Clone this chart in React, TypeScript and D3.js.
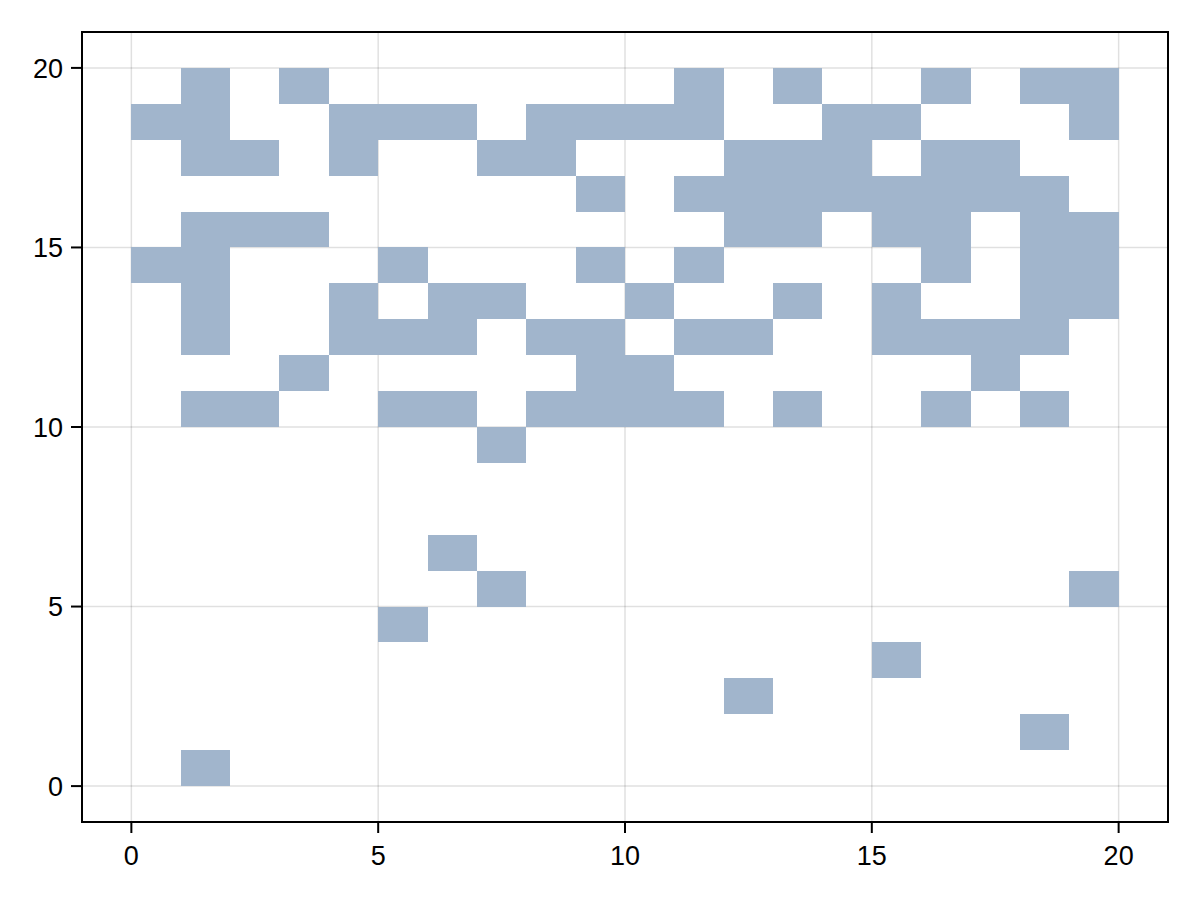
import React, { useEffect, useRef } from 'react';
import * as d3 from 'd3';

// filled cells, one list of x-indices per y row (cell spans [x, x+1] x [y, y+1])
const rowY = [19, 18, 17, 16, 15, 14, 13, 12, 11, 10, 9, 6, 5, 4, 3, 2, 1, 0];
const rowCells: number[][] = [
  [1, 3, 11, 13, 16, 18, 19],
  [0, 1, 4, 5, 6, 8, 9, 10, 11, 14, 15, 19],
  [1, 2, 4, 7, 8, 12, 13, 14, 16, 17],
  [9, 11, 12, 13, 14, 15, 16, 17, 18],
  [1, 2, 3, 12, 13, 15, 16, 18, 19],
  [0, 1, 5, 9, 11, 16, 18, 19],
  [1, 4, 6, 7, 10, 13, 15, 18, 19],
  [1, 4, 5, 6, 8, 9, 11, 12, 15, 16, 17, 18],
  [3, 9, 10, 17],
  [1, 2, 5, 6, 8, 9, 10, 11, 13, 16, 18],
  [7],
  [6],
  [7, 19],
  [5],
  [15],
  [12],
  [18],
  [1],
];

const xTicks = [0, 5, 10, 15, 20];
const yTicks = [0, 5, 10, 15, 20];

const W = 1200;
const H = 900;
const margin = { top: 32, right: 32, bottom: 78, left: 82 };

export default function App() {
  const ref = useRef<SVGSVGElement>(null);

  useEffect(() => {
    if (!ref.current) return;
    const svg = d3.select(ref.current);
    svg.selectAll('*').remove();

    const x = d3.scaleLinear().domain([-1, 21]).range([margin.left, W - margin.right]);
    const y = d3.scaleLinear().domain([-1, 21]).range([H - margin.bottom, margin.top]);

    svg.append('rect').attr('width', W).attr('height', H).attr('fill', '#fff');

    // grid
    const grid = svg.append('g').attr('stroke', '#000').attr('stroke-opacity', 0.12).attr('stroke-width', 1.5);
    xTicks.forEach(t => {
      grid.append('line').attr('x1', x(t)).attr('x2', x(t)).attr('y1', y(-1)).attr('y2', y(21));
    });
    yTicks.forEach(t => {
      grid.append('line').attr('x1', x(-1)).attr('x2', x(21)).attr('y1', y(t)).attr('y2', y(t));
    });

    // cells
    const cells = rowY.flatMap((yy, i) => rowCells[i].map(xx => ({ x: xx, y: yy })));
    svg.append('g')
      .selectAll('rect')
      .data(cells)
      .enter()
      .append('rect')
      .attr('x', d => x(d.x))
      .attr('y', d => y(d.y + 1))
      .attr('width', d => x(d.x + 1) - x(d.x))
      .attr('height', d => y(d.y) - y(d.y + 1))
      .attr('fill', '#a1b5cc')
      .attr('shape-rendering', 'crispEdges');

    // frame
    svg.append('rect')
      .attr('x', x(-1))
      .attr('y', y(21))
      .attr('width', x(21) - x(-1))
      .attr('height', y(-1) - y(21))
      .attr('fill', 'none')
      .attr('stroke', '#000')
      .attr('stroke-width', 2);

    const font = "'Liberation Sans', Arial, sans-serif";

    // x axis
    const xa = svg.append('g');
    xTicks.forEach(t => {
      xa.append('line').attr('x1', x(t)).attr('x2', x(t)).attr('y1', y(-1)).attr('y2', y(-1) + 11)
        .attr('stroke', '#000').attr('stroke-width', 2);
      xa.append('text').attr('x', x(t)).attr('y', y(-1) + 43)
        .attr('text-anchor', 'middle').attr('font-family', font).attr('font-size', 27)
        .text(t);
    });

    // y axis
    const ya = svg.append('g');
    yTicks.forEach(t => {
      ya.append('line').attr('x1', x(-1) - 11).attr('x2', x(-1)).attr('y1', y(t)).attr('y2', y(t))
        .attr('stroke', '#000').attr('stroke-width', 2);
      ya.append('text').attr('x', x(-1) - 19).attr('y', y(t)).attr('dy', '0.36em')
        .attr('text-anchor', 'end').attr('font-family', font).attr('font-size', 27)
        .text(t);
    });
  }, []);

  return (
    <svg
      ref={ref}
      width={W}
      height={H}
      style={{ position: 'absolute', left: 0, top: 0, display: 'block' }}
    />
  );
}
